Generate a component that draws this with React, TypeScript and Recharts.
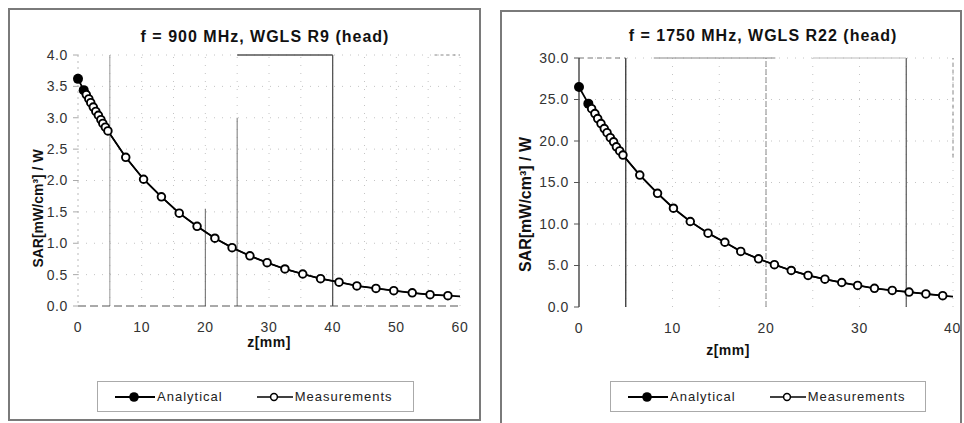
import React from 'react';
import { LineChart, Line, XAxis, YAxis, ReferenceLine } from 'recharts';

// ---------- 900 MHz panel ----------
const xTicks900 = [0, 10, 20, 30, 40, 50, 60];
const yTicks900 = [0, 0.5, 1, 1.5, 2, 2.5, 3, 3.5, 4];
const gridZ900 = [5, 10, 15, 20, 25, 30, 35, 40, 45, 50, 55, 60];
const measZ900 = [0.9, 1.3, 1.7, 2.0, 2.4, 2.8, 3.2, 3.6, 3.9, 4.3, 4.7, 7.5, 10.3, 13.1, 15.9, 18.7, 21.5, 24.2, 27.0, 29.7, 32.5, 35.3, 38.1, 41.0, 43.8, 46.8, 49.6, 52.5, 55.3, 58.1];
const measSar900 = [3.44, 3.37, 3.30, 3.24, 3.17, 3.10, 3.04, 2.97, 2.91, 2.85, 2.79, 2.37, 2.02, 1.74, 1.48, 1.27, 1.08, 0.93, 0.80, 0.69, 0.59, 0.51, 0.435, 0.38, 0.32, 0.28, 0.245, 0.21, 0.18, 0.165];
const anaZ900 = [0, 0.9, 1.3, 1.7, 2.0, 2.4, 2.8, 3.2, 3.6, 3.9, 4.3, 4.7, 7.5, 10.3, 13.1, 15.9, 18.7, 21.5, 24.2, 27.0, 29.7, 32.5, 35.3, 38.1, 41.0, 43.8, 46.8, 49.6, 52.5, 55.3, 58.1, 60];
const anaSar900 = [3.62, 3.44, 3.37, 3.30, 3.24, 3.17, 3.10, 3.04, 2.97, 2.91, 2.85, 2.79, 2.37, 2.02, 1.74, 1.48, 1.27, 1.08, 0.93, 0.80, 0.69, 0.59, 0.51, 0.435, 0.38, 0.32, 0.28, 0.245, 0.21, 0.18, 0.165, 0.155];

// ---------- 1750 MHz panel ----------
const xTicks1750 = [0, 10, 20, 30, 40];
const yTicks1750 = [0, 5, 10, 15, 20, 25, 30];
const gridZ1750 = [5, 10, 15, 20, 25, 30, 35, 40];
const measZ1750 = [1.0, 1.35, 1.7, 2.0, 2.35, 2.7, 3.0, 3.35, 3.7, 4.0, 4.35, 4.7, 6.5, 8.4, 10.1, 11.9, 13.8, 15.6, 17.3, 19.2, 20.9, 22.7, 24.5, 26.3, 28.1, 29.8, 31.6, 33.5, 35.3, 37.1, 38.9];
const measSar1750 = [24.5, 23.9, 23.3, 22.7, 22.1, 21.5, 21.0, 20.4, 19.9, 19.3, 18.8, 18.3, 15.9, 13.7, 11.9, 10.3, 8.9, 7.8, 6.7, 5.8, 5.1, 4.4, 3.8, 3.35, 2.95, 2.6, 2.25, 2.0, 1.8, 1.57, 1.37];
const anaZ1750 = [0, 1.0, 1.35, 1.7, 2.0, 2.35, 2.7, 3.0, 3.35, 3.7, 4.0, 4.35, 4.7, 6.5, 8.4, 10.1, 11.9, 13.8, 15.6, 17.3, 19.2, 20.9, 22.7, 24.5, 26.3, 28.1, 29.8, 31.6, 33.5, 35.3, 37.1, 38.9, 40];
const anaSar1750 = [26.5, 24.5, 23.9, 23.3, 22.7, 22.1, 21.5, 21.0, 20.4, 19.9, 19.3, 18.8, 18.3, 15.9, 13.7, 11.9, 10.3, 8.9, 7.8, 6.7, 5.8, 5.1, 4.4, 3.8, 3.35, 2.95, 2.6, 2.25, 2.0, 1.8, 1.57, 1.37, 1.25];

const toPoints = (zs: number[], vs: number[]) => zs.map((z, i) => ({ z, sar: vs[i] }));

const FONT = '"Liberation Sans", Arial, sans-serif';

const AnalyticalDot = (props: any) => {
  const { cx, cy, index } = props;
  if (index > 1) return <g key={`ad-${index}`} />;
  return <circle key={`ad-${index}`} cx={cx} cy={cy} r={5} fill="#000" />;
};

const MeasDot = (props: any) => {
  const { cx, cy, index } = props;
  if (index === 0) return <g key={`md-${index}`} />;
  return <circle key={`md-${index}`} cx={cx} cy={cy} r={3.8} fill="#fff" stroke="#000" strokeWidth={1.9} />;
};

const YLabel = (props: any) => {
  const { viewBox, value, dx, dy, fontSize } = props;
  const cx = viewBox.x + dx;
  const cy = viewBox.y + viewBox.height / 2 + dy;
  return (
    <text
      x={cx}
      y={cy}
      transform={`rotate(-90 ${cx} ${cy})`}
      textAnchor="middle"
      dominantBaseline="central"
      fontFamily={FONT}
      fontWeight="bold"
      fontSize={fontSize}
      fill="#111"
    >
      {value}
    </text>
  );
};

const XLabel = (props: any) => {
  const { viewBox, value, dx, dy } = props;
  const cx = viewBox.x + viewBox.width / 2 + dx;
  const cy = viewBox.y + dy;
  return (
    <text x={cx} y={cy} textAnchor="middle" dominantBaseline="central" fontFamily={FONT} fontWeight="bold" fontSize={14} letterSpacing={0.5} fill="#111">
      {value}
    </text>
  );
};

const tickStyle = { fontFamily: FONT, fontSize: 14, fill: '#333', letterSpacing: 0.6 } as any;

const LegendBox = ({ left, top, width }: { left: number; top: number; width: number }) => (
  <div
    style={{
      position: 'absolute',
      left,
      top,
      width,
      height: 31,
      boxSizing: 'border-box',
      border: '1px solid #aaa',
      display: 'flex',
      alignItems: 'center',
      fontFamily: FONT,
      fontSize: 13,
      letterSpacing: 1,
      color: '#222',
    }}
  >
    <svg width={40} height={12} style={{ marginLeft: 17 }}>
      <line x1={0} y1={6} x2={40} y2={6} stroke="#000" strokeWidth={1.8} />
      <circle cx={19} cy={6} r={4.8} fill="#000" />
    </svg>
    <span style={{ marginLeft: 2 }}>Analytical</span>
    <svg width={36} height={12} style={{ marginLeft: 34 }}>
      <line x1={0} y1={6} x2={36} y2={6} stroke="#000" strokeWidth={1.5} />
      <circle cx={17} cy={6} r={3.4} fill="#fff" stroke="#000" strokeWidth={1.5} />
    </svg>
    <span style={{ marginLeft: 2 }}>Measurements</span>
  </div>
);

const Title = ({ text, cx, cy }: { text: string; cx: number; cy: number }) => (
  <div
    style={{
      position: 'absolute',
      left: cx - 200,
      top: cy - 10,
      width: 400,
      textAlign: 'center',
      fontFamily: FONT,
      fontWeight: 'bold',
      fontSize: 16,
      letterSpacing: 1,
      lineHeight: '20px',
      color: '#111',
    }}
  >
    {text}
  </div>
);

const gridLine = { stroke: '#c4c4c4', strokeDasharray: '1 7', strokeWidth: 1 };

export default function App() {
  const meas900 = toPoints(measZ900, measSar900);
  const ana900 = toPoints(anaZ900, anaSar900);
  const meas1750 = toPoints(measZ1750, measSar1750);
  const ana1750 = toPoints(anaZ1750, anaSar1750);

  return (
    <div style={{ position: 'absolute', left: 0, top: 0, width: 964, height: 423, background: '#fff', overflow: 'hidden' }}>
      {/* frames */}
      <div style={{ position: 'absolute', left: 8, top: 8, width: 473, height: 413, boxSizing: 'border-box', border: '2px solid #7a7a7a' }} />
      <div style={{ position: 'absolute', left: 500, top: 10, width: 462, height: 415, boxSizing: 'border-box', border: '2px solid #7a7a7a' }} />

      {/* left chart */}
      <div style={{ position: 'absolute', left: 10, top: 10 }}>
        <LineChart width={469} height={409} margin={{ top: 45, right: 19, bottom: 63, left: 18 }}>
          {gridZ900.map((z) => (
            <ReferenceLine key={`gx${z}`} x={z} {...gridLine} />
          ))}
          {yTicks900.slice(1).map((y) => (
            <ReferenceLine key={`gy${y}`} y={y} {...gridLine} />
          ))}
          <ReferenceLine x={5} stroke="#999" strokeWidth={1} />
          <ReferenceLine x={40} stroke="#555" strokeWidth={1.3} />
          <ReferenceLine segment={[{ x: 20, y: 0 }, { x: 20, y: 1.55 }]} stroke="#666" strokeWidth={1} />
          <ReferenceLine segment={[{ x: 25, y: 0 }, { x: 25, y: 3.0 }]} stroke="#777" strokeWidth={1} />
          <ReferenceLine segment={[{ x: 25, y: 4 }, { x: 40, y: 4 }]} stroke="#555" strokeWidth={1.3} />
          <ReferenceLine segment={[{ x: 56, y: 4 }, { x: 60, y: 4 }]} stroke="#888" strokeDasharray="3 3" />
          <XAxis
            type="number"
            dataKey="z"
            domain={[0, 60]}
            ticks={xTicks900}
            height={50}
            tickSize={6}
            tickMargin={10}
            tickLine={false}
            axisLine={{ stroke: '#555', strokeDasharray: '8 4' }}
            tick={tickStyle}
            label={<XLabel value="z[mm]" dx={0} dy={36} />}
          />
          <YAxis
            type="number"
            dataKey="sar"
            domain={[0, 4]}
            ticks={yTicks900}
            width={50}
            tickSize={5}
            tickMargin={5}
            tickLine={{ stroke: '#aaa' }}
            axisLine={{ stroke: '#bbb', strokeDasharray: '2 4' }}
            tick={tickStyle}
            tickFormatter={(v: number) => v.toFixed(1)}
            label={<YLabel value="SAR[mW/cm³] / W" dx={10} dy={28} fontSize={14} />}
          />
          <Line data={ana900} dataKey="sar" type="linear" stroke="#000" strokeWidth={1.8} dot={AnalyticalDot} isAnimationActive={false} />
          <Line data={meas900} dataKey="sar" type="linear" stroke="#000" strokeWidth={1.4} dot={MeasDot} isAnimationActive={false} />
        </LineChart>
      </div>

      {/* right chart */}
      <div style={{ position: 'absolute', left: 502, top: 12 }}>
        <LineChart width={458} height={409} margin={{ top: 46, right: 7, bottom: 64, left: 22 }}>
          {gridZ1750.map((z) => (
            <ReferenceLine key={`gx${z}`} x={z} {...gridLine} />
          ))}
          {yTicks1750.slice(1).map((y) => (
            <ReferenceLine key={`gy${y}`} y={y} {...gridLine} />
          ))}
          <ReferenceLine x={5} stroke="#333" strokeWidth={1.3} />
          <ReferenceLine x={35} stroke="#555" strokeWidth={1.2} />
          <ReferenceLine x={20} stroke="#888" strokeWidth={1} strokeDasharray="6 2" />
          <ReferenceLine segment={[{ x: 40, y: 18 }, { x: 40, y: 30 }]} stroke="#888" strokeDasharray="4 3" />
          <ReferenceLine segment={[{ x: 0, y: 30 }, { x: 5, y: 30 }]} stroke="#777" strokeDasharray="5 4" />
          <ReferenceLine segment={[{ x: 8, y: 30 }, { x: 21, y: 30 }]} stroke="#888" />
          <ReferenceLine segment={[{ x: 25, y: 30 }, { x: 35, y: 30 }]} stroke="#bbb" />
          <XAxis
            type="number"
            dataKey="z"
            domain={[0, 40]}
            ticks={xTicks1750}
            height={50}
            tickSize={6}
            tickMargin={10}
            tickLine={false}
            axisLine={false}
            tick={tickStyle}
            label={<XLabel value="z[mm]" dx={-38} dy={43} />}
          />
          <YAxis
            type="number"
            dataKey="sar"
            domain={[0, 30]}
            ticks={yTicks1750}
            width={55}
            tickSize={5}
            tickMargin={5}
            tickLine={{ stroke: '#555' }}
            axisLine={{ stroke: '#333', strokeWidth: 1.3 }}
            tick={tickStyle}
            tickFormatter={(v: number) => v.toFixed(1)}
            label={<YLabel value="SAR[mW/cm³] / W" dx={1} dy={22} fontSize={16} />}
          />
          <Line data={ana1750} dataKey="sar" type="linear" stroke="#000" strokeWidth={1.8} dot={AnalyticalDot} isAnimationActive={false} />
          <Line data={meas1750} dataKey="sar" type="linear" stroke="#000" strokeWidth={1.4} dot={MeasDot} isAnimationActive={false} />
        </LineChart>
      </div>

      <Title text="f = 900 MHz, WGLS R9 (head)" cx={265} cy={37} />
      <Title text="f = 1750 MHz, WGLS R22 (head)" cx={763} cy={36} />
      <LegendBox left={97} top={381} width={317} />
      <LegendBox left={610} top={381} width={316} />
    </div>
  );
}
